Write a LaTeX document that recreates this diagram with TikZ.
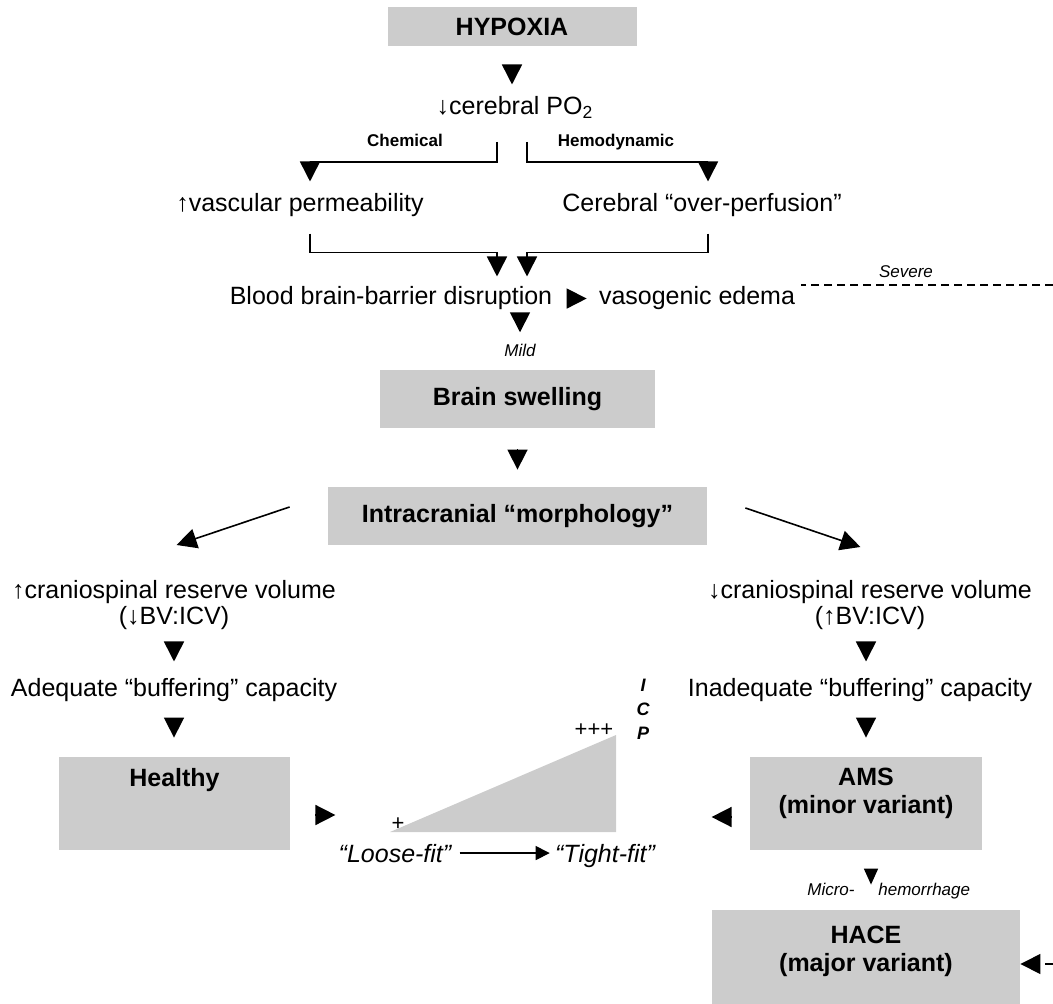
\documentclass[tikz,border=0pt]{standalone}
\usepackage{fontspec}
\setmainfont{Liberation Sans}
\usepackage{xcolor}
\usepackage{tikz}
\usetikzlibrary{positioning,calc,arrows.meta}

\definecolor{boxgray}{RGB}{204,204,204}
\tikzset{
  box/.style={fill=boxgray, inner sep=0pt, align=center, font=\fontsize{12.5}{14}\selectfont\bfseries},
  boxtxt/.style={inner sep=0pt, align=center, font=\fontsize{12.5}{14}\selectfont\bfseries},
  txt/.style={inner sep=0pt, anchor=base, font=\fontsize{12.5}{13}\selectfont},
  itxt/.style={inner sep=0pt, anchor=base, font=\fontsize{12.5}{13}\selectfont\itshape},
  lbl/.style={inner sep=0pt, anchor=base, font=\fontsize{8.5}{10}\selectfont\bfseries},
  ilbl/.style={inner sep=0pt, anchor=base, font=\fontsize{8.5}{10}\selectfont\itshape},
  plus/.style={inner sep=0pt, font=\fontsize{11}{12}\selectfont},
  tip/.style={-{Triangle[length=10pt,width=10pt]}, line width=0.8pt},
  smalltip/.style={-{Triangle[length=7pt,width=7pt]}, line width=0.6pt},
  sevline/.style={line width=0.6pt, dash pattern=on 4pt off 2.5pt}
}

\begin{document}
\begin{tikzpicture}[x=0.5pt, y=-0.5pt]
    \useasboundingbox (0,0) rectangle (1053,1004);

    % Hypoxia
    \node (hyp) at (512,26.5) [box, minimum width=124.5pt, minimum height=19.5pt] {HYPOXIA};
    \node (cer) at (515,115) [txt] {↓cerebral PO\textsubscript{2}};
    \draw[tip, shorten <=9.5pt, shorten >=6pt] (hyp) -- (hyp |- cer.north);

    % Chemical and hemodynamic paths
    \node (chem) at (405,147) [lbl] {Chemical};
    \node (hemo) at (616,147) [lbl] {Hemodynamic};
    \coordinate (chemtop) at (497,142);
    \coordinate (hemotop) at (527,142);
    \node (vasc) at (300,212) [txt] {↑vascular permeability};
    \node (perf) at (702,212) [txt] {Cerebral “over-perfusion”};
    \draw[tip] (chemtop) -- ++(0,20) -| ($(vasc.north)+(10,-12)$);
    \draw[tip] (hemotop) -- ++(0,20) -| ($(perf.north)+(6,-12)$);

    % Barrier disruption
    \node (bbb) at (391,305) [txt] {Blood brain-barrier disruption};
    \node (edema) at (697,305) [txt] {vasogenic edema};
    \draw[tip] ($(vasc.south)+(10,16)$) -- ++(0,19) -| ($(bbb.north)+(106,-10)$);
    \draw[tip] ($(perf.south)+(6,16)$) -- ++(0,19) -| ($(bbb.north)+(136,-10)$);
    \draw[tip, shorten <=8.5pt, shorten >=6pt] (bbb) -- (edema);

    % Severe
    \coordinate (sevend) at (1053,285);
    \draw[sevline, shorten >=3pt] (sevend) -- (sevend -| edema.east);
    \node (severe) at (906,278) [ilbl] {Severe};

    % Mild
    \node (mild) at (520,357) [ilbl] {Mild};
    \draw[tip, shorten <=1.5pt, shorten >=6pt] (bbb.south -| mild) -- (mild);

    % Swelling and morphology
    \node (swell) at (517.5,399) [box, minimum width=137.5pt, minimum height=29pt] {Brain swelling};
    \node (morph) at (517.5,516) [box, minimum width=189.5pt, minimum height=29pt] {Intracranial “morphology”};
    \draw[tip, shorten <=10.5pt, shorten >=8.5pt] (swell) -- (morph);
    \draw[tip] ($(morph.west)+(-38,-9)$) -- ($(morph.west)+(-151,29)$);
    \draw[tip] ($(morph.east)+(38,-8)$) -- ($(morph.east)+(153,31)$);

    % Large reserve
    \node (upres) at (174,580) [txt, anchor=north, align=center] {↑craniospinal reserve volume\\(↓BV:ICV)};
    \node (adeq) at (174,696) [txt] {Adequate “buffering” capacity};
    \node (healthy) at (174.5,803.5) [box, minimum width=115.5pt, minimum height=46.5pt] {};
    \node (healthytxt) [boxtxt, below=5.5pt of healthy.north] {Healthy};
    \draw[tip, shorten <=7pt, shorten >=8pt] (upres) -- (adeq);
    \draw[tip, shorten <=9pt, shorten >=9.5pt] (adeq) -- (adeq |- healthy.north);
    \draw[tip, shorten <=12.5pt] ($(healthy.east)+(0,11.5)$) -- ++(45,0);

    % Small reserve
    \node (dnres) at (870,580) [txt, anchor=north, align=center] {↓craniospinal reserve volume\\(↑BV:ICV)};
    \node (inadeq) at (860,696) [txt] {Inadequate “buffering” capacity};
    \node (ams) at (866,803.5) [box, minimum width=116pt, minimum height=46.5pt] {};
    \node (amstxt) [boxtxt, below=5.5pt of ams.north] {AMS\\(minor variant)};
    \draw[tip, shorten <=7pt, shorten >=8pt] (dnres.south -| ams) -- (inadeq.north -| ams);
    \draw[tip, shorten <=9pt, shorten >=9.5pt] (inadeq.south -| ams) -- (ams);
    \draw[tip, shorten <=9pt] ($(ams.west)+(0,13.5)$) -- ++(-38,0);

    % HACE
    \node (hace) at (866,957) [box, minimum width=154pt, minimum height=47pt] {};
    \node (hacetxt) [boxtxt, below=8pt of hace.north] {HACE\\(major variant)};
    \draw[-{Triangle[length=8pt,width=7pt]}, line width=0.8pt, shorten <=10.5pt, shorten >=12.5pt]
        ([xshift=2.5pt]ams.south) -- ([xshift=2.5pt]hace.north);
    \node (micro) at (855,895) [ilbl, anchor=base east] {Micro-};
    \node (hemor) at (878,895) [ilbl, anchor=base west] {hemorrhage};
    \coordinate (hacedash) at (1053,964);
    \draw[tip, sevline] (hacedash) -- (hacedash -| hace.east);

    % ICP wedge
    \fill[boxgray] (390,832) -- (616,735) -- (616,832) -- cycle;
    \node (lowicp) at (398,824) [plus] {+};
    \node (highicp) at (594,730) [plus] {+++};
    \node (icp) at (643,709) [inner sep=0pt, align=center, font=\fontsize{9}{12}\selectfont\bfseries\itshape] {I\\C\\P};
    \node (loose) at (395,862) [itxt] {“Loose-fit”};
    \node (tight) at (605,862) [itxt] {“Tight-fit”};
    \draw[smalltip, shorten <=4pt, shorten >=2.5pt] (loose) -- (loose -| tight.west);
\end{tikzpicture}
\end{document}
